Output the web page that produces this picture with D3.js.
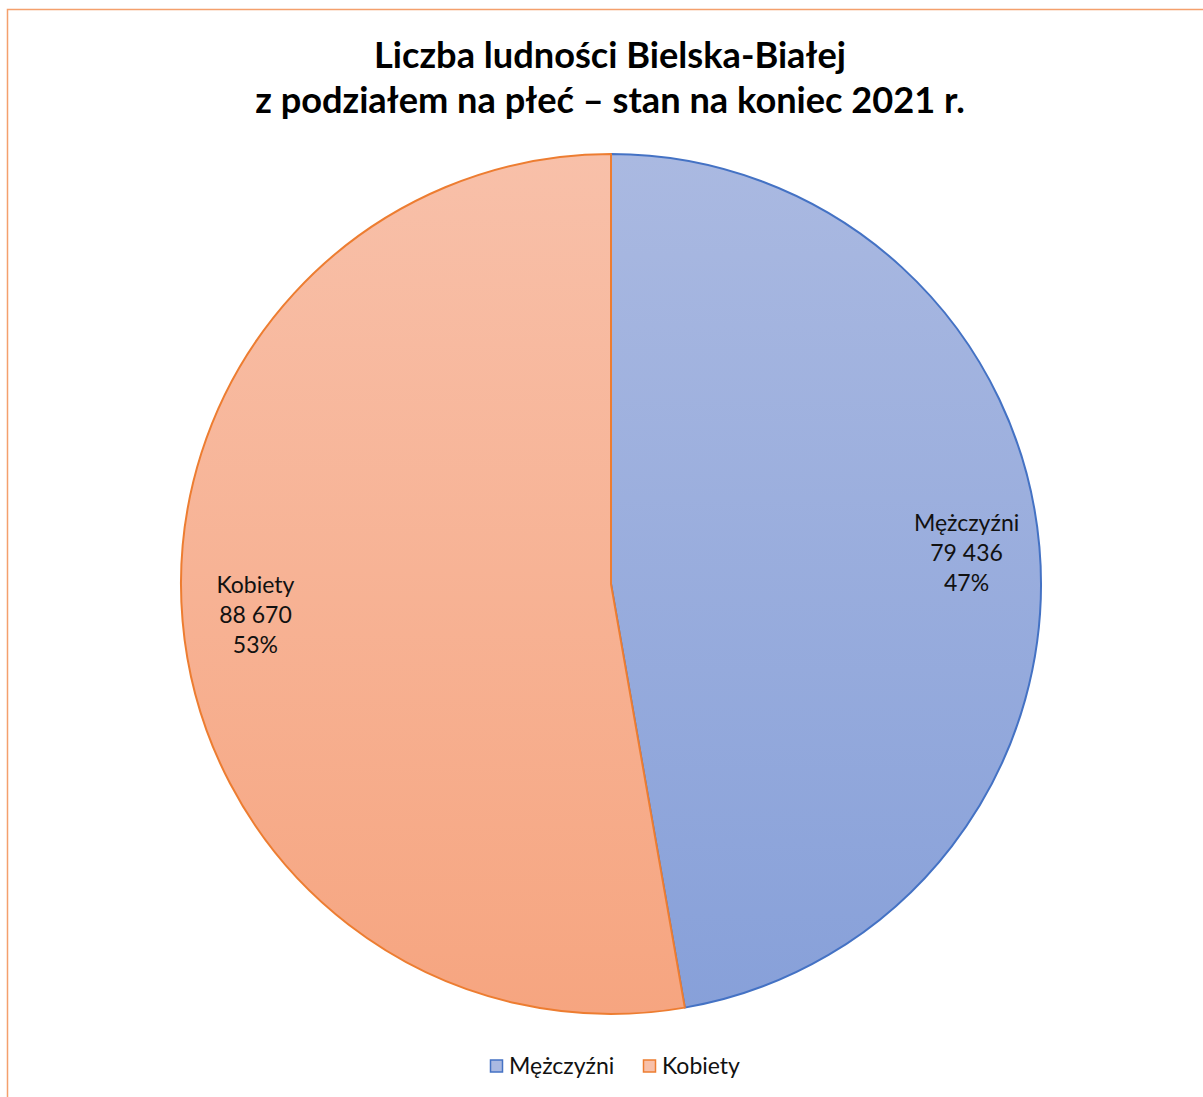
<meta charset="utf-8" />
<style>
	body { margin: 0; background: #fff; }
	text { font-family: Lato, 'Open Sans', sans-serif; }
</style>
<svg width="1203" height="1097"></svg>
<script src="https://cdnjs.cloudflare.com/ajax/libs/d3/7.8.5/d3.min.js"></script>
<script>
	var categories = ['Mężczyźni', 'Kobiety'];
	var values = [79436, 88670];
	var percentLabels = ['47%', '53%'];
	var titleLines = ['Liczba ludności Bielska-Białej', 'z podziałem na płeć – stan na koniec 2021 r.'];

	var fillTop = ['#aab9e1', '#f8c0a9'];
	var fillBottom = ['#87a0d9', '#f6a580'];
	var strokes = ['#4472c4', '#ed7d31'];

	var svg = d3.select('svg'),
		width = +svg.attr('width'),
		height = +svg.attr('height');

	// chart area border (runs off the right and bottom of the picture)
	svg.append('rect')
		.attr('x', 7.5)
		.attr('y', 9.5)
		.attr('width', width + 20)
		.attr('height', height + 20)
		.attr('fill', 'none')
		.attr('stroke', '#f4a06d')
		.attr('stroke-width', 1.5);

	var title = svg.append('text')
		.attr('text-anchor', 'middle')
		.attr('font-weight', 'bold')
		.attr('font-size', 36.2)
		.attr('fill', '#000');
	title.selectAll('tspan')
		.data(titleLines)
		.join('tspan')
		.attr('x', 610)
		.attr('y', (d, i) => 68 + i * 45)
		.text(d => d);

	var cx = 611, cy = 584, radius = 430;

	var defs = svg.append('defs');
	categories.forEach((c, i) => {
		var grad = defs.append('linearGradient')
			.attr('id', 'grad' + i)
			.attr('gradientUnits', 'userSpaceOnUse')
			.attr('x1', 0).attr('y1', -radius)
			.attr('x2', 0).attr('y2', radius);
		grad.append('stop').attr('offset', 0).attr('stop-color', fillTop[i]);
		grad.append('stop').attr('offset', 1).attr('stop-color', fillBottom[i]);
	});

	var pie = d3.pie().sort(null).value(d => d);
	var arcs = pie(values);
	var arc = d3.arc().innerRadius(0).outerRadius(radius);
	var labelArc = d3.arc().innerRadius(radius * 0.83).outerRadius(radius * 0.83);

	var g = svg.append('g')
		.attr('transform', 'translate(' + cx + ',' + cy + ')');

	g.selectAll('path')
		.data(arcs)
		.join('path')
		.attr('d', arc)
		.attr('fill', (d, i) => 'url(#grad' + i + ')')
		.attr('stroke', (d, i) => strokes[i])
		.attr('stroke-width', 2)
		.attr('stroke-linejoin', 'round');

	var fmt = v => d3.format(',')(v).replace(/,/g, ' ');

	var labels = g.selectAll('text.lbl')
		.data(arcs)
		.join('text')
		.attr('class', 'lbl')
		.attr('text-anchor', 'middle')
		.attr('font-size', 23)
		.attr('fill', '#111')
		.attr('transform', d => 'translate(' + labelArc.centroid(d) + ')');
	labels.each(function (d, i) {
		var lines = [categories[i], fmt(values[i]), percentLabels[i]];
		d3.select(this).selectAll('tspan')
			.data(lines)
			.join('tspan')
			.attr('x', 0)
			.attr('y', (l, j) => (j - 1) * 30 + 8)
			.text(l => l);
	});

	// legend
	var legend = svg.append('g').attr('transform', 'translate(0,1066)');
	var legendX = [490, 643];
	categories.forEach((c, i) => {
		var item = legend.append('g').attr('transform', 'translate(' + legendX[i] + ',0)');
		item.append('rect')
			.attr('x', 0.5).attr('y', -6)
			.attr('width', 12).attr('height', 12)
			.attr('fill', fillTop[i])
			.attr('stroke', strokes[i])
			.attr('stroke-width', 1.5);
		item.append('text')
			.attr('x', 19)
			.attr('y', 8)
			.attr('font-size', 23)
			.attr('fill', '#111')
			.text(c);
	});
</script>
